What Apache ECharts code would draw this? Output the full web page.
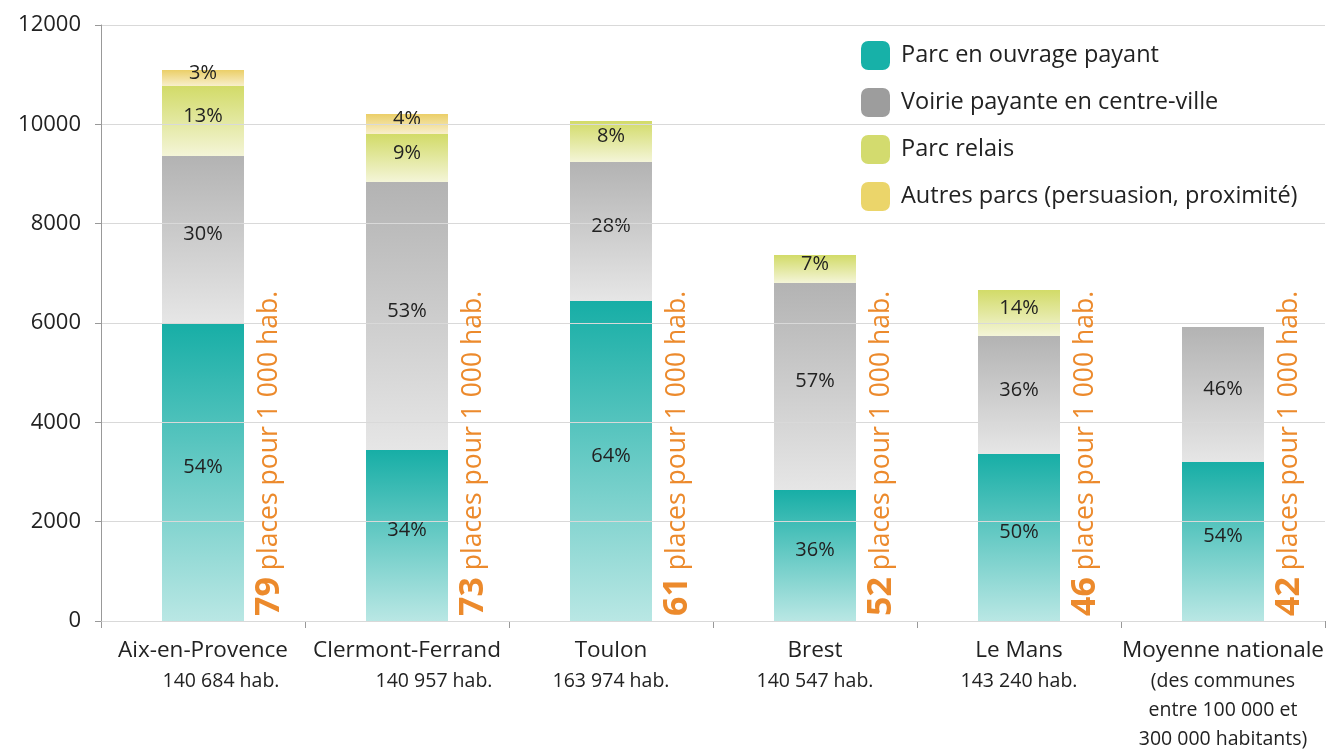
<!DOCTYPE html>
<html>
<head>
<meta charset="utf-8">
<style>
  html, body { margin: 0; padding: 0; background: #ffffff; }
  #chart { width: 1331px; height: 754px; }
</style>
<script src="https://cdn.jsdelivr.net/npm/echarts@6/dist/echarts.min.js"></script>
</head>
<body>
<div id="chart"></div>
<script>
// ---- Data ----
const categories = ['Aix-en-Provence', 'Clermont-Ferrand', 'Toulon', 'Brest', 'Le Mans', 'Moyenne nationale'];
const subLabels = ['140 684 hab.', '140 957 hab.', '163 974 hab.', '140 547 hab.', '143 240 hab.',
                   '(des communes\nentre 100 000 et\n300 000 habitants)'];
const seriesNames = ['Parc en ouvrage payant', 'Voirie payante en centre-ville', 'Parc relais', 'Autres parcs (persuasion, proximité)'];
const parcOuvrage = [6000, 3443, 6443, 2637, 3362, 3201];
const voirie      = [3362, 5395, 2798, 4168, 2376, 2718];
const parcRelais  = [1409, 967, 825, 564, 926, null];
const autresParcs = [322, 402, null, null, null, null];
const pctOuvrage = ['54%', '34%', '64%', '36%', '50%', '54%'];
const pctVoirie  = ['30%', '53%', '28%', '57%', '36%', '46%'];
const pctRelais  = ['13%', '9%', '8%', '7%', '14%', ''];
const pctAutres  = ['3%', '4%', '', '', '', ''];
const placesPer1000 = [79, 73, 61, 52, 46, 42];
const yTicks = [0, 2000, 4000, 6000, 8000, 10000, 12000];

// ---- Styles ----
const FONT = "'Open Sans', 'Noto Sans', sans-serif";
const flatColors = ['#17b1a8', '#9d9d9d', '#d3db6e', '#ebd56a'];
const gradients = [
  ['#17aea6', '#b9e7e4'],
  ['#b3b3b3', '#e6e6e6'],
  ['#d2db68', '#f4f5d8'],
  ['#ebcf68', '#f8efcc']
];
function grad(pair) {
  return new echarts.graphic.LinearGradient(0, 0, 0, 1, [
    { offset: 0, color: pair[0] }, { offset: 1, color: pair[1] }
  ]);
}
const subIndent = [36, 54, 0, 0, 0, 0];

function barSeries(i, values, pcts) {
  return {
    name: seriesNames[i],
    type: 'bar',
    stack: 'total',
    barWidth: 82,
    data: values,
    itemStyle: { color: grad(gradients[i]) },
    label: {
      show: true,
      position: 'inside',
      offset: [0, -5],
      color: '#222',
      fontSize: 20,
      fontFamily: FONT,
      formatter: p => pcts[p.dataIndex]
    },
    emphasis: { disabled: true }
  };
}

const chart = echarts.init(document.getElementById('chart'));
chart.setOption({
  animation: false,
  backgroundColor: '#ffffff',
  grid: { left: 101, right: 6, top: 25, bottom: 133, containLabel: false },
  legend: {
    orient: 'vertical',
    left: 856,
    top: 36,
    itemWidth: 29,
    itemHeight: 29,
    itemGap: 18,
    icon: 'roundRect',
    textStyle: { fontSize: 23.5, color: '#222', fontFamily: FONT, padding: [0, 0, 0, 6] },
    data: seriesNames.map((n, i) => ({ name: n, itemStyle: { color: flatColors[i] } }))
  },
  xAxis: {
    type: 'category',
    data: categories,
    axisLine: { show: true, lineStyle: { color: '#999', width: 1 } },
    axisTick: { show: true, length: 7, lineStyle: { color: '#999' } },
    axisLabel: {
      margin: 14,
      interval: 0,
      fontFamily: FONT,
      formatter: (v, idx) => {
        const subs = subLabels[idx].split('\n').map(s => '{b' + (subIndent[idx] ? idx : '') + '|' + s + '}').join('\n');
        return '{a|' + v + '}\n' + subs;
      },
      rich: {
        a: { fontSize: 22.5, color: '#222', lineHeight: 32, fontFamily: FONT },
        b: { fontSize: 19.5, color: '#222', lineHeight: 29, fontFamily: FONT },
        b0: { fontSize: 19.5, color: '#222', lineHeight: 29, fontFamily: FONT, padding: [0, 0, 0, subIndent[0]] },
        b1: { fontSize: 19.5, color: '#222', lineHeight: 29, fontFamily: FONT, padding: [0, 0, 0, subIndent[1]] }
      }
    }
  },
  yAxis: {
    type: 'value',
    min: yTicks[0],
    max: yTicks[yTicks.length - 1],
    interval: yTicks[1] - yTicks[0],
    z: 3,
    axisLine: { show: true, lineStyle: { color: '#999', width: 1 } },
    axisTick: { show: true, length: 6, lineStyle: { color: '#999' } },
    axisLabel: { fontSize: 22, color: '#222', margin: 20, fontFamily: FONT, formatter: v => String(v) },
    splitLine: { show: true, lineStyle: { color: '#d9d9d9', width: 1 } }
  },
  series: [
    barSeries(0, parcOuvrage, pctOuvrage),
    barSeries(1, voirie, pctVoirie),
    barSeries(2, parcRelais, pctRelais),
    barSeries(3, autresParcs, pctAutres),
    {
      type: 'custom',
      name: 'places',
      z: 5,
      silent: true,
      data: placesPer1000.map((v, i) => [i, v]),
      encode: { x: 0 },
      renderItem: (params, api) => {
        const c = api.coord([api.value(0), 0]);
        const band = api.size([1, 0])[0];
        return {
          type: 'text',
          x: c[0] + band * 0.325,
          y: c[1] - 5,
          rotation: Math.PI / 2,
          style: {
            text: '{n|' + api.value(1) + '}{t| places pour 1 000 hab.}',
            align: 'left',
            verticalAlign: 'middle',
            fill: '#ec8a2c',
            rich: {
              n: { fontSize: 34, fontWeight: 'bold', fill: '#ec8a2c', fontFamily: FONT },
              t: { fontSize: 26.5, fill: '#ec8a2c', fontFamily: FONT }
            }
          }
        };
      }
    }
  ]
});
</script>
</body>
</html>
